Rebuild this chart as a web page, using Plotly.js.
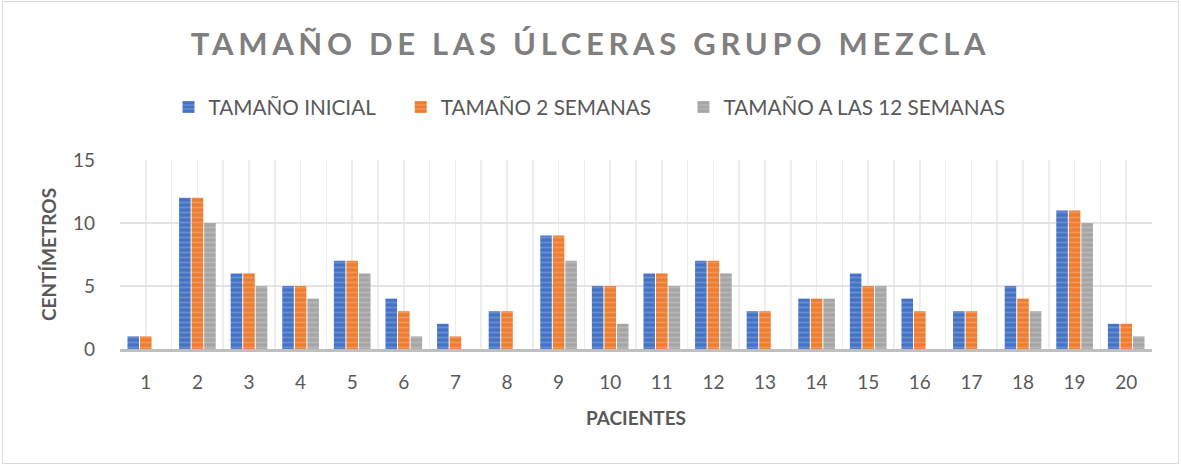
<!DOCTYPE html>
<html>
<head>
<meta charset="utf-8">
<script src="https://cdn.plot.ly/plotly-3.0.1.min.js"></script>
<style>
  html, body { margin: 0; padding: 0; background: #fff; }
  #wrap { position: absolute; left: 0; top: 0; width: 1181px; height: 466px; }
  #frame { position: absolute; left: 2px; top: 1px; width: 1175px; height: 461px; border: 1.5px solid #D9D9D9; pointer-events: none; z-index: 5; }
  #chart { position: absolute; left: 0; top: 0; width: 1181px; height: 466px; }
  .gtitle { letter-spacing: 4.7px; }
</style>
</head>
<body>
<div id="wrap">
  <div id="chart"></div>
  <div id="frame"></div>
</div>
<script>
const patients = [1,2,3,4,5,6,7,8,9,10,11,12,13,14,15,16,17,18,19,20];
const tamanoInicial = [1,12,6,5,7,4,2,3,9,5,6,7,3,4,6,4,3,5,11,2];
const tamano2Semanas = [1,12,6,5,7,3,1,3,9,5,6,7,3,4,5,3,3,4,11,2];
const tamano12Semanas = [0,10,5,4,6,1,0,0,7,2,5,6,0,4,5,0,0,3,10,1];
const seriesNames = ["TAMAÑO INICIAL", "TAMAÑO 2 SEMANAS", "TAMAÑO A LAS 12 SEMANAS"];

const font = "Lato, 'Open Sans', sans-serif";

function mk(name, y, base, light, leg) {
  return {
    type: 'bar', name: name, x: patients, y: y, legend: leg,
    marker: {
      color: base,
      line: {width: 0},
      pattern: {shape: '-', fgcolor: light, bgcolor: base, size: 5, solidity: 0.35, fillmode: 'overlay'}
    },
    hoverinfo: 'x+y'
  };
}

const data = [
  mk(seriesNames[0], tamanoInicial, '#4472C4', '#8EA9DB', 'legend'),
  mk(seriesNames[1], tamano2Semanas, '#ED7D31', '#F4B183', 'legend2'),
  mk(seriesNames[2], tamano12Semanas, '#A5A5A5', '#C9C9C9', 'legend3')
];

const legFont = {family: font, size: 20.7, color: '#595959'};
function leg(x) {
  return {orientation: 'h', x: x, xanchor: 'left', y: 1.28, yanchor: 'middle',
          font: legFont, itemwidth: 30, bgcolor: 'rgba(0,0,0,0)'};
}

const layout = {
  width: 1181, height: 466,
  margin: {l: 120, r: 29, t: 160, b: 117},
  paper_bgcolor: '#ffffff', plot_bgcolor: '#ffffff',
  font: {family: font, color: '#595959', size: 19},
  title: {
    text: '<b>TAMAÑO DE LAS ÚLCERAS GRUPO MEZCLA</b>',
    font: {family: font, size: 31, color: '#7F7F7F'},
    x: 0.5, xanchor: 'center', y: 0.905, yanchor: 'middle'
  },
  barmode: 'group', bargap: 0.27, bargroupgap: 0.08,
  showlegend: true,
  legend: leg(0.047),
  legend2: leg(0.272),
  legend3: leg(0.546),
  xaxis: {
    type: 'linear', range: [0.5, 20.5],
    tickmode: 'array', tickvals: patients, ticktext: patients.map(String),
    showgrid: false, zeroline: false,
    showline: true, linecolor: '#BFBFBF', linewidth: 3,
    ticks: '', ticklen: 0, ticklabelstandoff: 14,
    tickfont: {family: font, size: 19, color: '#595959'},
    minor: {tick0: 0.5, dtick: 0.5, showgrid: true, gridcolor: '#EDEDED', gridwidth: 1.5},
    title: {text: '<b>PACIENTES</b>', font: {family: font, size: 19, color: '#595959'}, standoff: 20}
  },
  yaxis: {
    range: [0, 15], tickvals: [0, 5, 10, 15], ticktext: ['0','5','10','15'],
    showgrid: true, gridcolor: '#E4E4E4', gridwidth: 2,
    zeroline: false, showline: false,
    ticks: '', ticklen: 0, ticklabelstandoff: 24,
    tickfont: {family: font, size: 19, color: '#595959'},
    title: {text: '<b>CENTÍMETROS</b>', font: {family: font, size: 19, color: '#595959'}, standoff: 11}
  }
};

Plotly.newPlot('chart', data, layout, {displayModeBar: false, staticPlot: true});
</script>
</body>
</html>
